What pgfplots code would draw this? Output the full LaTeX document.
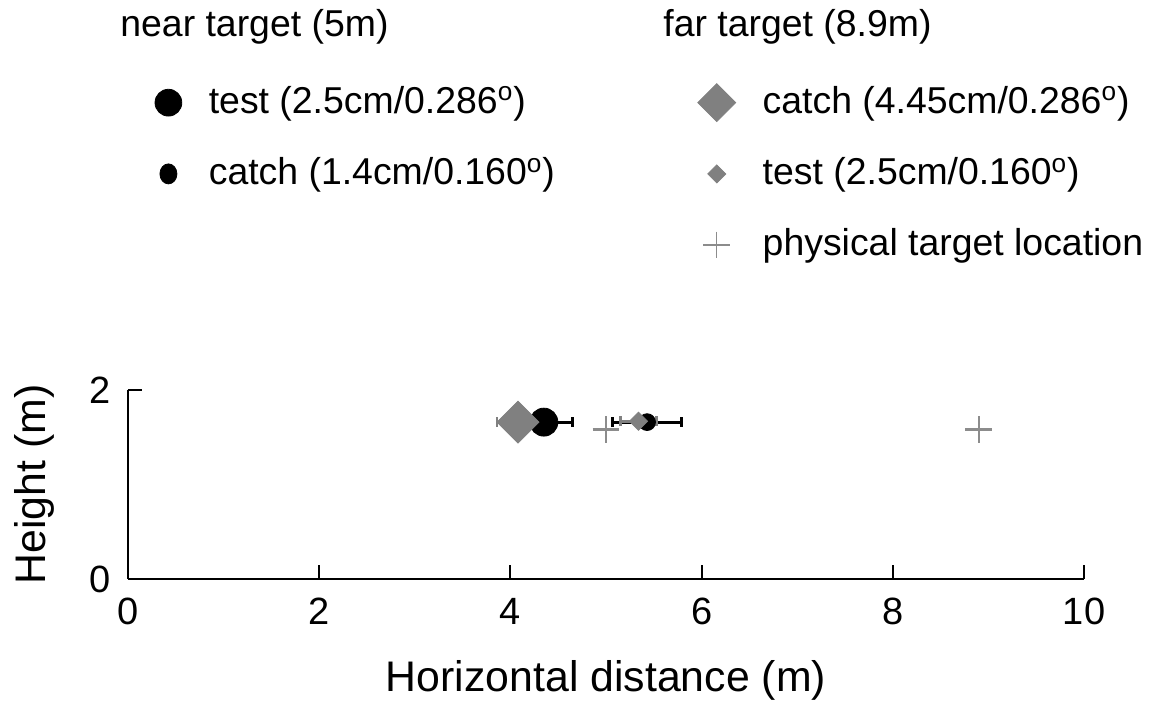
\documentclass[border=0pt]{standalone}
\usepackage{fontspec}
\setmainfont{Liberation Sans}
\usepackage{pgfplots}
\pgfplotsset{compat=1.18}
\definecolor{markgray}{RGB}{128,128,128}
\definecolor{crossgray}{RGB}{140,140,140}
\newcommand{\lgap}{\hspace{11.5pt}}
\newcommand{\degsup}{\textsuperscript{o}}

\begin{document}
\fontsize{18.7}{22}\selectfont
\begin{tikzpicture}
\path[use as bounding box] (-64pt,-63.5pt) rectangle (512pt,289.5pt);
\begin{axis}[
  scale only axis, width=478pt, height=94.5pt,
  xmin=0, xmax=10, ymin=0, ymax=2,
  axis x line=bottom, axis y line=left,
  axis line style={line width=1pt, -},
  xtick={0,2,...,10}, ytick={0,2},
  tick align=inside, major tick length=7pt,
  tick style={line width=1pt, black},
  /pgf/number format/assume math mode=true,
  ticklabel style={font=\fontsize{19}{22}\selectfont},
  xticklabel style={yshift=-3pt},
  yticklabel style={xshift=-2pt},
  xlabel={Horizontal distance (m)}, ylabel={Height (m)},
  label style={font=\fontsize{21.4}{25}\selectfont},
  xlabel style={at={(axis description cs:0.5,0)}, anchor=base, yshift=-56.5pt},
  ylabel style={at={(axis description cs:-0.0868,0.5)}, anchor=base},
  clip=false,
  legend columns=2,
  legend style={at={(axis description cs:0.024,2.630)}, anchor=north west,
    draw=none, fill=none, inner sep=0pt,
    font=\fontsize{18.7}{22}\selectfont, row sep=15.25pt, column sep=0pt},
  legend cell align=left,
  error bars/error bar style={line width=1.4pt},
  error bars/error mark options={line width=1.4pt, mark size=2.5pt, rotate=90},
]
% near target (5 m)
\addplot[forget plot, only marks, mark=*, mark size=7pt, black,
  error bars/.cd, x dir=both, x explicit]
  coordinates {(4.35,1.66) +- (0.30,0)};
\addplot[forget plot, only marks, mark=*, mark size=4.2pt, black,
  error bars/.cd, x dir=both, x explicit]
  coordinates {(5.43,1.66) +- (0.36,0)};
% far target (8.9 m)
\addplot[forget plot, only marks, mark=square*, mark size=7.4pt, markgray,
  mark options={rotate=45},
  error bars/.cd, x dir=both, x explicit]
  coordinates {(4.08,1.66) +- (0.22,0)};
\addplot[forget plot, only marks, mark=square*, mark size=3.2pt, markgray,
  mark options={rotate=45},
  error bars/.cd, x dir=both, x explicit]
  coordinates {(5.34,1.67) +- (0.19,0)};
% physical target locations
\addplot[forget plot, only marks, mark=+, mark size=6.7pt, crossgray,
  mark options={line width=1.3pt}]
  coordinates {(5.0,1.58) (8.9,1.58)};

% legend, filled row by row
\addlegendimage{only marks, mark=*, mark size=6.7pt, black}
\addlegendentry{\lgap\makebox[242.5pt][l]{test (2.5cm/0.286\degsup)}}
\addlegendimage{only marks, mark=square*, mark size=6.7pt, markgray, mark options={rotate=45}}
\addlegendentry{\lgap catch (4.45cm/0.286\degsup)}
\addlegendimage{only marks, mark=*, mark size=5pt, black, mark options={xscale=0.85}}
\addlegendentry{\lgap catch (1.4cm/0.160\degsup)}
\addlegendimage{only marks, mark=square*, mark size=3.2pt, markgray, mark options={rotate=45}}
\addlegendentry{\lgap test (2.5cm/0.160\degsup)}
\addlegendimage{empty legend}
\addlegendentry{\vphantom{()}}
\addlegendimage{only marks, mark=+, mark size=6.7pt, crossgray, mark options={line width=0.6pt}}
\addlegendentry{\lgap physical target location\vphantom{()}}
\end{axis}
\node[anchor=base west, inner sep=0pt] at (-4pt,271pt) {near target (5m)};
\node[anchor=base west, inner sep=0pt] at (267.5pt,271pt) {far target (8.9m)};
\end{tikzpicture}
\end{document}
